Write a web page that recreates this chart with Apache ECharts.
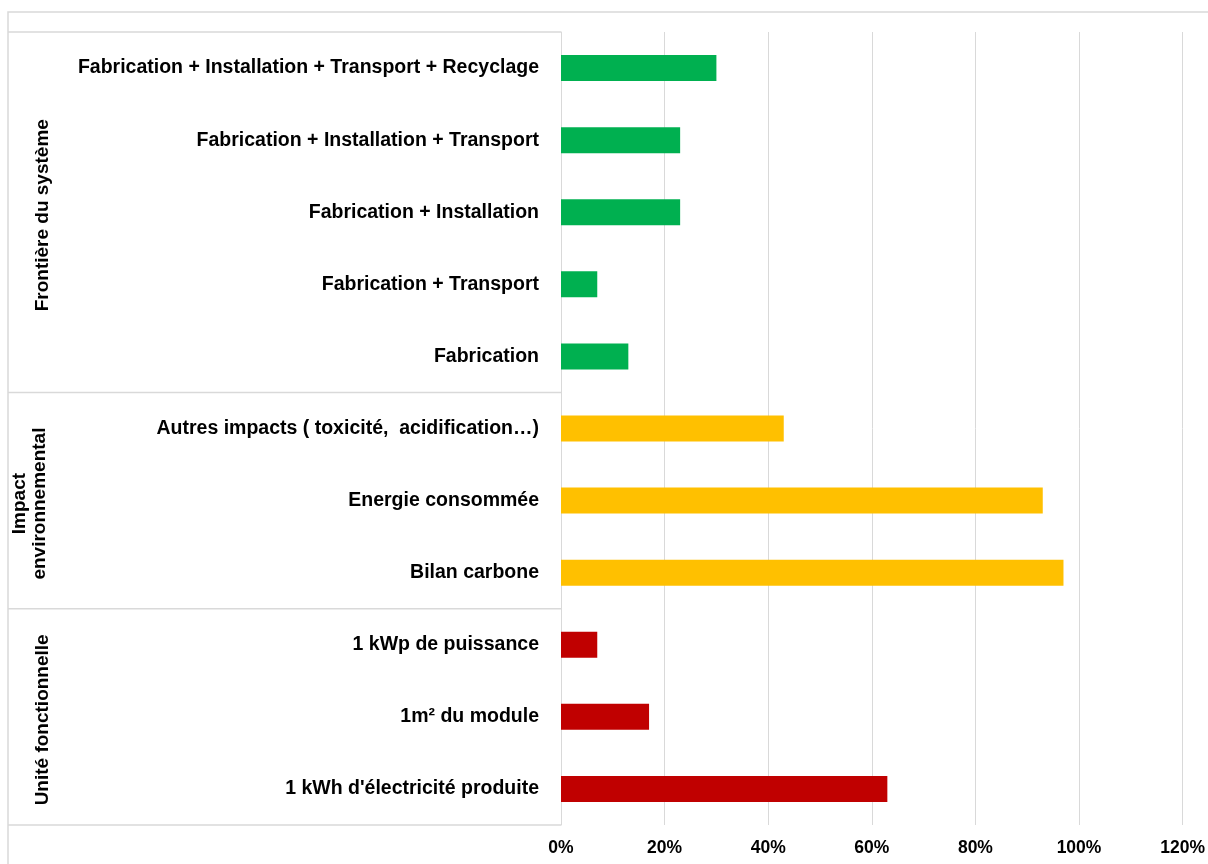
<!DOCTYPE html>
<html><head><meta charset="utf-8">
<script src="https://cdn.jsdelivr.net/npm/echarts@6/dist/echarts.min.js"></script>
<style>html,body{margin:0;padding:0;background:#fff}#c{width:1208px;height:864px}</style>
</head><body><div id="c"></div>
<script>
const categories = [
  "Fabrication + Installation + Transport + Recyclage",
  "Fabrication + Installation + Transport",
  "Fabrication + Installation",
  "Fabrication + Transport",
  "Fabrication",
  "Autres impacts ( toxicité,  acidification…)",
  "Energie consommée",
  "Bilan carbone",
  "1 kWp de puissance",
  "1m² du module",
  "1 kWh d'électricité produite"
];
const values = [30, 23, 23, 7, 13, 43, 93, 97, 7, 17, 63];
const groupOf = [0, 0, 0, 0, 0, 1, 1, 1, 2, 2, 2];
const groupNames = ["Frontière du système", "Impact\nenvironnemental", "Unité fonctionnelle"];
const groupColors = ["#00B050", "#FFC000", "#C00000"];
const xTicks = [0, 20, 40, 60, 80, 100, 120];

const FONT = '"Liberation Sans", Arial, sans-serif';
const chart = echarts.init(document.getElementById('c'));
const option = {
  animation: false,
  grid: { left: 561, right: 25, top: 32, bottom: 39, containLabel: false },
  xAxis: {
    type: 'value', min: xTicks[0], max: xTicks[xTicks.length - 1], interval: 20,
    axisLine: { show: false }, axisTick: { show: false },
    splitLine: { lineStyle: { color: '#d9d9d9', width: 1 } },
    axisLabel: { formatter: '{value}%', color: '#000', fontFamily: FONT, fontWeight: 'bold', fontSize: 17.5, margin: 14 }
  },
  yAxis: {
    type: 'category', data: categories, inverse: true,
    axisLine: { show: true, lineStyle: { color: '#d9d9d9', width: 1 } },
    axisTick: { show: false },
    axisLabel: { color: '#000', fontFamily: FONT, fontWeight: 'bold', fontSize: 19.5, margin: 22 }
  },
  series: [{
    type: 'bar', data: values, barWidth: 26,
    itemStyle: { color: p => groupColors[groupOf[p.dataIndex]] }
  }]
};
chart.setOption(option);

// Group separators and labels computed from the category axis
const elements = [];
const lineStyle = { stroke: '#d9d9d9', lineWidth: 1.5 };
elements.push({ type: 'rect', silent: true, shape: { x: 8, y: 12, width: 1220, height: 880 }, style: { fill: 'none', stroke: '#d9d9d9', lineWidth: 1.5 } });
const yOf = i => chart.convertToPixel({ yAxisIndex: 0 }, i);
const step = yOf(1) - yOf(0);
const axisX = chart.convertToPixel({ xAxisIndex: 0 }, 0);
const boundaries = [];
let start = 0;
for (let i = 1; i <= categories.length; i++) {
  if (i === categories.length || groupOf[i] !== groupOf[i - 1]) {
    const top = yOf(start) - step / 2;
    const bottom = yOf(i - 1) + step / 2;
    boundaries.push(top);
    const g = groupOf[start];
    const multi = groupNames[g].indexOf('\n') >= 0;
    elements.push({
      type: 'text', silent: true, x: multi ? 30 : 43, y: (top + bottom) / 2 + 3, rotation: Math.PI / 2,
      style: { text: groupNames[g], fill: '#000', font: 'bold 19px ' + FONT, align: 'center', verticalAlign: 'middle', lineHeight: 20 }
    });
    start = i;
  }
}
boundaries.push(yOf(categories.length - 1) + step / 2);
boundaries.forEach(y => {
  elements.push({ type: 'line', silent: true, shape: { x1: 8, y1: y, x2: axisX, y2: y }, style: lineStyle });
});
chart.setOption({ graphic: { elements } });
</script></body></html>
